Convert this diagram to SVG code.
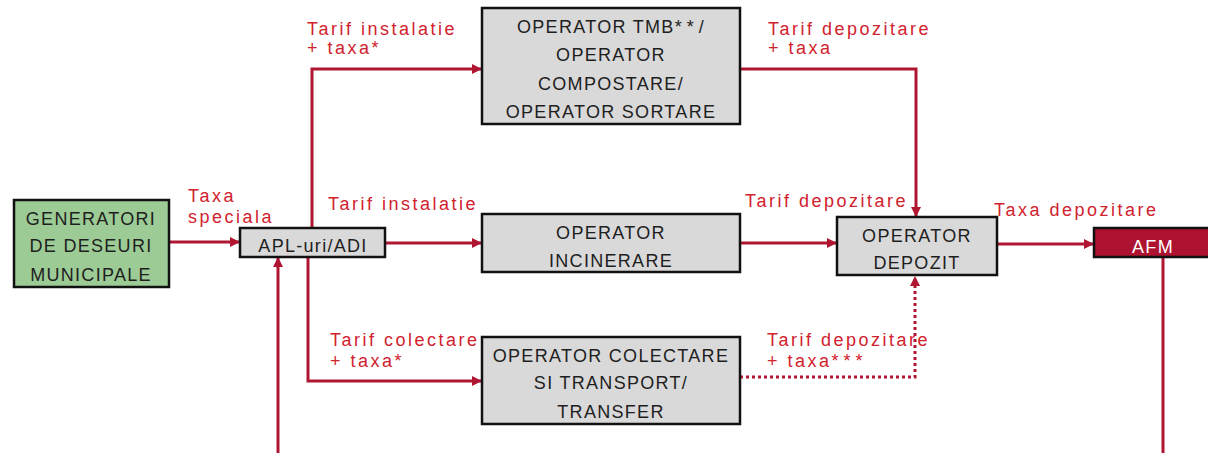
<svg xmlns="http://www.w3.org/2000/svg" width="1208" height="453" viewBox="0 0 1208 453">
  <defs>
    <style>
      .box { stroke: #111; stroke-width: 2.5; }
      .gray { fill: #d9d9d9; }
      .green { fill: #9ccb95; }
      .red { fill: #ad1330; }
      .btxt { font-family: "Liberation Sans", Arial, sans-serif; font-size: 18px; fill: #1e1e1e; text-anchor: middle; letter-spacing: 1.3px; }
      .wtxt { font-family: "Liberation Sans", Arial, sans-serif; font-size: 18px; fill: #ffffff; text-anchor: middle; letter-spacing: 1.3px; }
      .lbl { font-family: "Liberation Sans", Arial, sans-serif; font-size: 18px; fill: #d1222e; letter-spacing: 2.5px; }
      .stars { letter-spacing: 5px; }
      .wire { fill: none; stroke: #b01632; stroke-width: 3; }
      .dot { stroke-dasharray: 3 3; }
    </style>
    <marker id="arrow" viewBox="0 0 10 10" refX="10" refY="5" markerWidth="10" markerHeight="10" markerUnits="userSpaceOnUse" orient="auto">
      <path d="M0,0 L10,5 L0,10 Z" fill="#b01632"/>
    </marker>
  </defs>

  <!-- connectors -->
  <g id="connectors">
    <path class="wire" d="M169,242 H240" marker-end="url(#arrow)"/>
    <path class="wire" d="M312,228 V69 H482" marker-end="url(#arrow)"/>
    <path class="wire" d="M385,243 H482" marker-end="url(#arrow)"/>
    <path class="wire" d="M308,257 V381 H482" marker-end="url(#arrow)"/>
    <path class="wire" d="M278,453 V257" marker-end="url(#arrow)"/>
    <path class="wire" d="M740,69 H916 V217" marker-end="url(#arrow)"/>
    <path class="wire" d="M740,243 H837" marker-end="url(#arrow)"/>
    <path class="wire dot" d="M740,377 H915 V276" marker-end="url(#arrow)"/>
    <path class="wire" d="M997,244 H1094" marker-end="url(#arrow)"/>
    <path class="wire" d="M1163,257 V453"/>
  </g>

  <!-- connector labels -->
  <g id="labels">
    <text class="lbl" x="188" y="202">Taxa</text>
    <text class="lbl" x="188" y="223">speciala</text>
    <text class="lbl" x="307" y="35">Tarif instalatie</text>
    <text class="lbl" x="307" y="54">+ taxa*</text>
    <text class="lbl" x="768" y="35">Tarif depozitare</text>
    <text class="lbl" x="768" y="54">+ taxa</text>
    <text class="lbl" x="328" y="210">Tarif instalatie</text>
    <text class="lbl" x="745" y="207">Tarif depozitare</text>
    <text class="lbl" x="994" y="216">Taxa depozitare</text>
    <text class="lbl" x="330" y="346">Tarif colectare</text>
    <text class="lbl" x="330" y="367">+ taxa*</text>
    <text class="lbl" x="767" y="346">Tarif depozitare</text>
    <text class="lbl" x="767" y="367">+ taxa<tspan class="stars">***</tspan></text>
  </g>

  <g id="generatori">
    <rect class="box green" x="14" y="200" width="155" height="87"/>
    <text class="btxt" x="91" y="225">GENERATORI</text>
    <text class="btxt" x="91" y="252">DE DESEURI</text>
    <text class="btxt" x="91" y="281">MUNICIPALE</text>
  </g>

  <g id="apl">
    <rect class="box gray" x="240" y="228" width="145" height="29"/>
    <text class="btxt" x="313" y="252">APL-uri/ADI</text>
  </g>

  <g id="operator-tmb">
    <rect class="box gray" x="482" y="8" width="258" height="116"/>
    <text class="btxt" x="611" y="33">OPERATOR TMB<tspan class="stars">**</tspan>/</text>
    <text class="btxt" x="611" y="61">OPERATOR</text>
    <text class="btxt" x="611" y="90">COMPOSTARE/</text>
    <text class="btxt" x="611" y="118">OPERATOR SORTARE</text>
  </g>

  <g id="operator-incinerare">
    <rect class="box gray" x="482" y="214" width="258" height="58"/>
    <text class="btxt" x="611" y="239">OPERATOR</text>
    <text class="btxt" x="611" y="267">INCINERARE</text>
  </g>

  <g id="operator-colectare">
    <rect class="box gray" x="482" y="337" width="258" height="87"/>
    <text class="btxt" x="611" y="362">OPERATOR COLECTARE</text>
    <text class="btxt" x="611" y="389">SI TRANSPORT/</text>
    <text class="btxt" x="611" y="418">TRANSFER</text>
  </g>

  <g id="operator-depozit">
    <rect class="box gray" x="837" y="217" width="160" height="58"/>
    <text class="btxt" x="917" y="242">OPERATOR</text>
    <text class="btxt" x="917" y="269">DEPOZIT</text>
  </g>

  <g id="afm">
    <rect class="box red" x="1094" y="228" width="116" height="29"/>
    <text class="wtxt" x="1153" y="253">AFM</text>
  </g>
</svg>
